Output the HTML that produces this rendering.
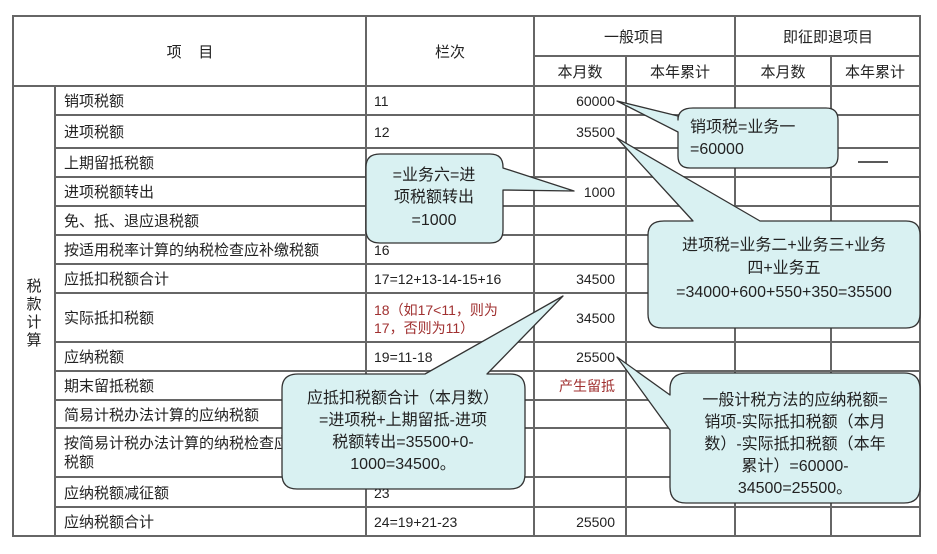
<!DOCTYPE html>
<html><head><meta charset="utf-8"><style>
html,body{margin:0;padding:0;background:#fff;}
svg{display:block;}
text{font-family:"Liberation Sans","Noto Sans CJK SC",sans-serif;fill:#222;}
.t{font-size:15px;}
.n{font-size:14px;font-family:"Liberation Serif","Noto Serif CJK SC",serif;}
.c{font-size:16px;fill:#333;}
</style></head><body>
<svg width="937" height="554" viewBox="0 0 937 554" xmlns="http://www.w3.org/2000/svg">
<rect width="937" height="554" fill="#fff"/>
<g stroke="#666" stroke-width="2" fill="none">
<rect x="13" y="16" width="907" height="520"/>
<line x1="366" y1="16" x2="366" y2="536"/>
<line x1="534" y1="16" x2="534" y2="536"/>
<line x1="735" y1="16" x2="735" y2="536"/>
<line x1="626" y1="56" x2="626" y2="536"/>
<line x1="831" y1="56" x2="831" y2="536"/>
<line x1="534" y1="56" x2="920" y2="56"/>
<line x1="13" y1="86" x2="920" y2="86"/>
<line x1="55" y1="86" x2="55" y2="536"/>
<g>
<line x1="55" y1="115" x2="920" y2="115"/>
<line x1="55" y1="148" x2="920" y2="148"/>
<line x1="55" y1="177" x2="920" y2="177"/>
<line x1="55" y1="206" x2="920" y2="206"/>
<line x1="55" y1="235" x2="920" y2="235"/>
<line x1="55" y1="264" x2="920" y2="264"/>
<line x1="55" y1="293" x2="920" y2="293"/>
<line x1="55" y1="342" x2="920" y2="342"/>
<line x1="55" y1="371" x2="920" y2="371"/>
<line x1="55" y1="400" x2="920" y2="400"/>
<line x1="55" y1="428" x2="920" y2="428"/>
<line x1="55" y1="477" x2="920" y2="477"/>
<line x1="55" y1="507" x2="920" y2="507"/>
</g>
</g>
<line x1="858" y1="162" x2="888" y2="162" stroke="#222" stroke-width="1.5"/>
<!-- headers -->
<text class="t" x="190" y="57" text-anchor="middle" xml:space="preserve">项    目</text>
<text class="t" x="450" y="57" text-anchor="middle">栏次</text>
<text class="t" x="634" y="42" text-anchor="middle">一般项目</text>
<text class="t" x="828" y="42" text-anchor="middle">即征即退项目</text>
<text class="t" x="580" y="77" text-anchor="middle">本月数</text>
<text class="t" x="680" y="77" text-anchor="middle">本年累计</text>
<text class="t" x="783" y="77" text-anchor="middle">本月数</text>
<text class="t" x="875" y="77" text-anchor="middle">本年累计</text>
<g class="t">
<text x="34" y="291" text-anchor="middle">税</text>
<text x="34" y="309" text-anchor="middle">款</text>
<text x="34" y="327" text-anchor="middle">计</text>
<text x="34" y="345" text-anchor="middle">算</text>
</g>
<g class="t">
<text x="64" y="106">销项税额</text>
<text x="64" y="137">进项税额</text>
<text x="64" y="168">上期留抵税额</text>
<text x="64" y="197">进项税额转出</text>
<text x="64" y="226">免、抵、退应退税额</text>
<text x="64" y="255">按适用税率计算的纳税检查应补缴税额</text>
<text x="64" y="284">应抵扣税额合计</text>
<text x="64" y="323">实际抵扣税额</text>
<text x="64" y="362">应纳税额</text>
<text x="64" y="391">期末留抵税额</text>
<text x="64" y="420">简易计税办法计算的应纳税额</text>
<text x="64" y="448">按简易计税办法计算的纳税检查应补缴</text>
<text x="64" y="467">税额</text>
<text x="64" y="498">应纳税额减征额</text>
<text x="64" y="527">应纳税额合计</text>
</g>
<g class="n">
<text x="374" y="106">11</text>
<text x="374" y="137">12</text>
<text x="374" y="255">16</text>
<text x="374" y="284">17=12+13-14-15+16</text>
<text x="374" y="315" style="fill:#a03030">18（如17&lt;11，则为</text>
<text x="374" y="333" style="fill:#a03030">17，否则为11）</text>
<text x="374" y="362">19=11-18</text>
<text x="374" y="498">23</text>
<text x="374" y="527">24=19+21-23</text>
<text x="615" y="106" text-anchor="end">60000</text>
<text x="615" y="137" text-anchor="end">35500</text>
<text x="615" y="197" text-anchor="end">1000</text>
<text x="615" y="284" text-anchor="end">34500</text>
<text x="615" y="323" text-anchor="end">34500</text>
<text x="615" y="362" text-anchor="end">25500</text>
<text x="615" y="391" text-anchor="end" style="fill:#a03030;font-family:'Liberation Sans','Noto Sans CJK SC',sans-serif">产生留抵</text>
<text x="615" y="527" text-anchor="end">25500</text>
</g>
<!-- callouts -->
<g fill="#d9f1f2" stroke="#333" stroke-width="1.3" stroke-linejoin="round">
<path d="M693,108 H826 Q838,108 838,120 V156 Q838,168 826,168 H690 Q678,168 678,156 V132 L617,101 L678,116 V120 Q678,108 693,108 Z"/>
<path d="M380,154 H490 Q503,154 503,167 V168 L574,191 L503,190 V230 Q503,243 490,243 H380 Q366,243 366,230 V167 Q366,154 380,154 Z"/>
<path d="M664,221 H693 L617,138 L760,221 H906 Q920,221 920,235 V314 Q920,328 906,328 H662 Q648,328 648,314 V235 Q648,221 664,221 Z"/>
<path d="M298,374 H425 L563,296 L487,374 H510 Q525,374 525,389 V474 Q525,489 510,489 H297 Q282,489 282,474 V389 Q282,374 298,374 Z"/>
<path d="M688,373 H904 Q920,373 920,389 V487 Q920,503 904,503 H686 Q670,503 670,487 V430 L617,357 L670,395 V389 Q670,373 688,373 Z"/>
</g>
<g class="c">
<text x="690" y="132">销项税=业务一</text>
<text x="690" y="154">=60000</text>
<text x="434" y="180" text-anchor="middle">=业务六=进</text>
<text x="434" y="202" text-anchor="middle">项税额转出</text>
<text x="434" y="225" text-anchor="middle">=1000</text>
<text x="784" y="250" text-anchor="middle">进项税=业务二+业务三+业务</text>
<text x="784" y="273" text-anchor="middle">四+业务五</text>
<text x="784" y="297" text-anchor="middle">=34000+600+550+350=35500</text>
<text x="403" y="403" text-anchor="middle">应抵扣税额合计（本月数）</text>
<text x="403" y="425" text-anchor="middle">=进项税+上期留抵-进项</text>
<text x="403" y="447" text-anchor="middle">税额转出=35500+0-</text>
<text x="403" y="469" text-anchor="middle">1000=34500。</text>
<text x="795" y="405" text-anchor="middle">一般计税方法的应纳税额=</text>
<text x="795" y="427" text-anchor="middle">销项-实际抵扣税额（本月</text>
<text x="795" y="449" text-anchor="middle">数）-实际抵扣税额（本年</text>
<text x="795" y="471" text-anchor="middle">累计）=60000-</text>
<text x="795" y="493" text-anchor="middle">34500=25500。</text>
</g>
</svg>
</body></html>
